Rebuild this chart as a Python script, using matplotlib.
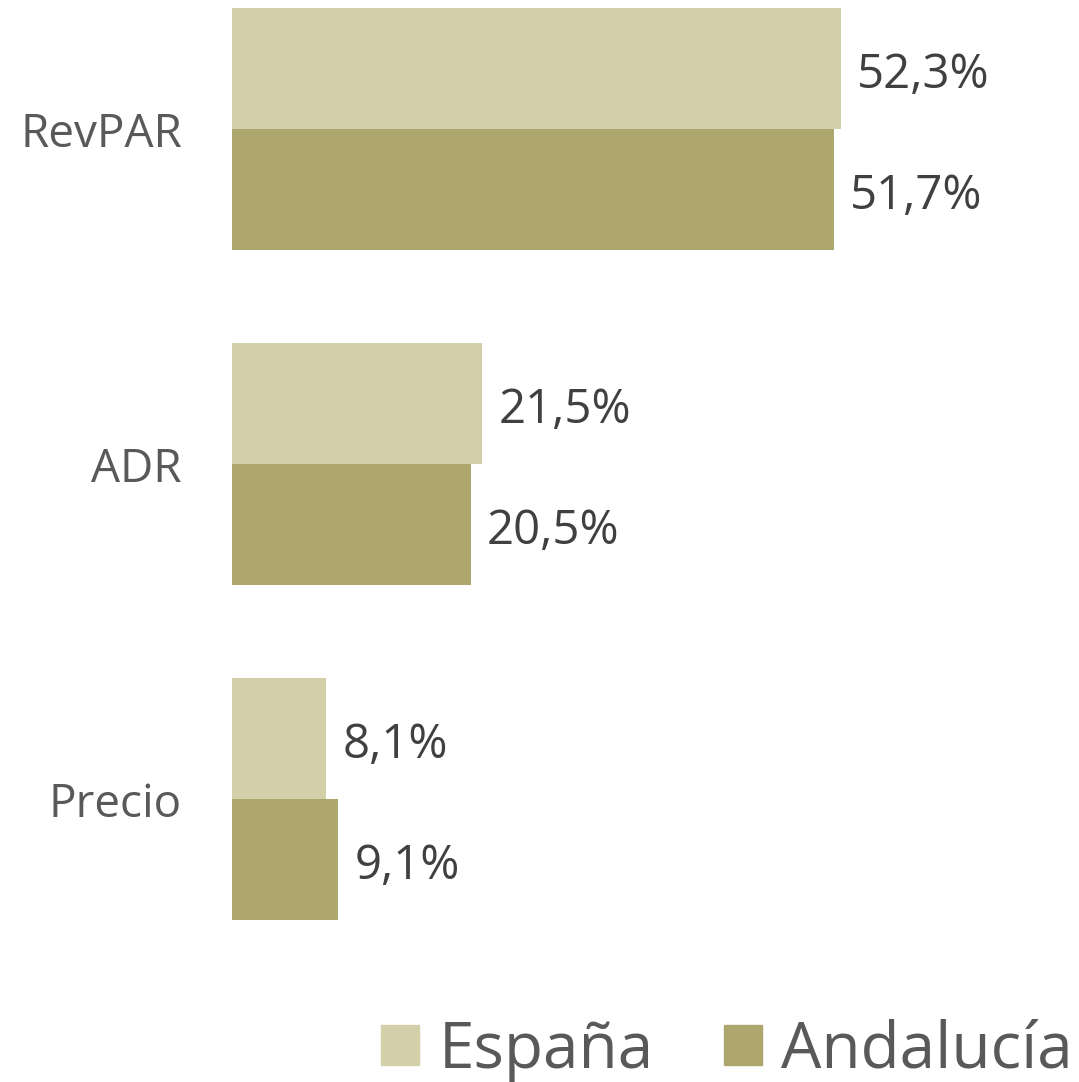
import matplotlib
matplotlib.use("Agg")
import matplotlib.pyplot as plt
import numpy as np
from matplotlib.patches import Patch

categories = ["RevPAR", "ADR", "Precio"]
espana = [52.3, 21.5, 8.1]
andalucia = [51.7, 20.5, 9.1]
series_names = ["España", "Andalucía"]

c_esp = "#D3CFA9"
c_and = "#ADA76F"

plt.rcParams["font.family"] = ["Open Sans", "DejaVu Sans"]

W, H = 1079, 1082
fig = plt.figure(figsize=(W / 100, H / 100), dpi=100)
ax = fig.add_axes([232 / W, 0, 1 - 232 / W, 1])

y = np.arange(len(categories))
h = 121 / 335
ax.barh(y - h / 2, espana, height=h, color=c_esp)
ax.barh(y + h / 2, andalucia, height=h, color=c_and)

for yi, v in zip(y - h / 2, espana):
    ax.text(v + 1.4, yi + 0.02, f"{v:.1f}%".replace(".", ","), va="center", ha="left",
            fontsize=34, color="#404040")
for yi, v in zip(y + h / 2, andalucia):
    ax.text(v + 1.4, yi + 0.02, f"{v:.1f}%".replace(".", ","), va="center", ha="left",
            fontsize=34, color="#404040")

ax.set_xlim(0, (W - 232) / 11.64)
ax.set_ylim((H - 129) / 335, -129 / 335)
ax.set_yticks(y)
ax.set_yticklabels(categories, fontsize=33, color="#595959")
ax.tick_params(axis="y", length=0, pad=36)
ax.set_xticks([])
for s in ax.spines.values():
    s.set_visible(False)

handles = [Patch(color=c_esp), Patch(color=c_and)]
fig.legend(handles, series_names, loc="lower right", bbox_to_anchor=(1.03, -0.036),
           ncol=2, frameon=False, fontsize=46, labelcolor="#595959",
           handlelength=0.6, handleheight=0.6, handletextpad=0.3, columnspacing=1.1,
           borderaxespad=0.2)

fig.savefig("out.png", dpi=100)
